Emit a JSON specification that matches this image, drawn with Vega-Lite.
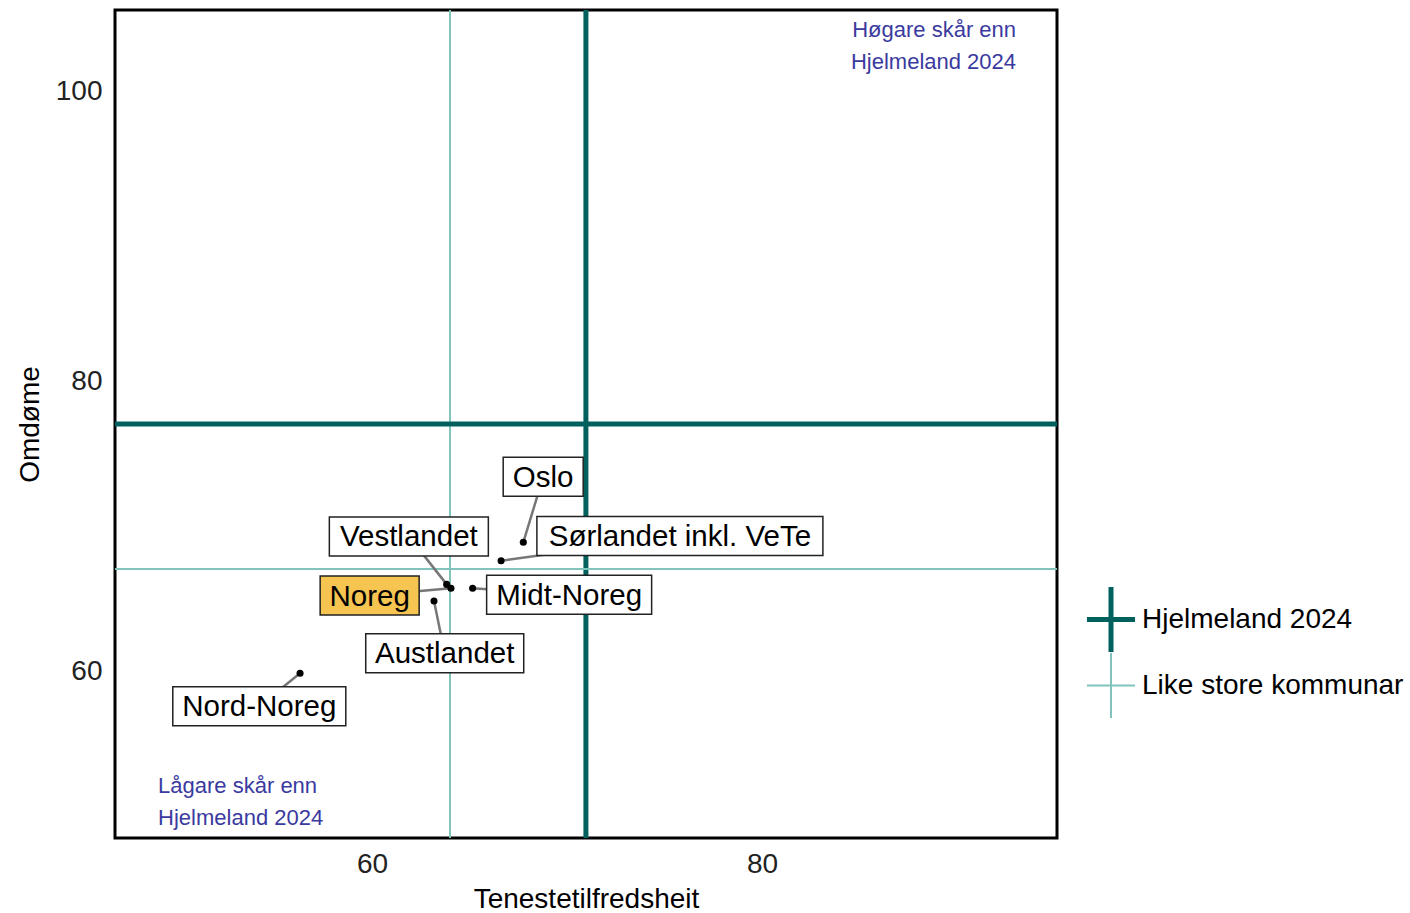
{
  "$schema": "https://vega.github.io/schema/vega-lite/v6.json",
  "width": 942,
  "height": 828,
  "autosize": {"type": "none"},
  "padding": {"left": 115, "top": 10, "right": 353, "bottom": 75},
  "background": "white",
  "config": {
    "font": "Liberation Sans",
    "view": {"stroke": "black", "strokeWidth": 3},
    "axis": {"grid": false, "ticks": false, "domain": false, "labelFontSize": 28, "labelColor": "#222", "titleFontSize": 28, "titleFontWeight": "normal", "titleColor": "black", "labelFont": "Liberation Sans", "titleFont": "Liberation Sans"}
  },
  "datasets": {
    "regions": [
      {"name": "Oslo", "x": 67.76, "y": 68.91, "lx": 68.78, "ly": 73.43},
      {"name": "Sørlandet inkl. VeTe", "x": 66.62, "y": 67.64, "lx": 75.79, "ly": 69.34},
      {"name": "Vestlandet", "x": 63.83, "y": 66.01, "lx": 61.89, "ly": 69.32},
      {"name": "Noreg", "x": 64.05, "y": 65.74, "lx": 59.88, "ly": 65.24},
      {"name": "Midt-Noreg", "x": 65.16, "y": 65.74, "lx": 70.11, "ly": 65.29},
      {"name": "Austlandet", "x": 63.18, "y": 64.86, "lx": 63.73, "ly": 61.26},
      {"name": "Nord-Noreg", "x": 56.31, "y": 59.88, "lx": 54.22, "ly": 57.6}
    ],
    "refs": [
      {"type": "Like store kommunar", "x": 64.0, "y": 67.07},
      {"type": "Hjelmeland 2024", "x": 70.97, "y": 77.07}
    ]
  },
  "layer": [
    {
      "data": {"name": "refs"},
      "mark": {"type": "rule"},
      "encoding": {
        "x": {"field": "x", "type": "quantitative", "scale": {"domain": [46.82, 95.13], "nice": false, "zero": false}, "axis": {"values": [60, 80], "title": "Tenestetilfredsheit", "labelPadding": 12, "titlePadding": 7}},
        "color": {"field": "type", "type": "nominal", "scale": {"domain": ["Hjelmeland 2024", "Like store kommunar"], "range": ["#00605E", "#80C4BC"]},
          "legend": {"orient": "none", "legendX": 982, "legendY": 595.5, "title": null, "symbolType": "M-0.74,0H0.74M0,-1V1", "symbolSize": 4225, "symbolFillColor": "transparent", "labelFontSize": 28, "labelColor": "black", "labelFont": "Liberation Sans", "labelOffset": 17, "labelLimit": 500, "rowPadding": -14, "padding": 0,
            "encode": {"symbols": {"update": {"strokeWidth": {"signal": "datum.value === 'Hjelmeland 2024' ? 5 : 2"}}}}}},
        "strokeWidth": {"condition": {"test": "datum.type === 'Hjelmeland 2024'", "value": 5}, "value": 2}
      }
    },
    {
      "data": {"name": "refs"},
      "mark": {"type": "rule"},
      "encoding": {
        "y": {"field": "y", "type": "quantitative", "scale": {"domain": [48.52, 105.62], "nice": false, "zero": false}, "axis": {"values": [60, 80, 100], "title": "Omdøme", "labelPadding": 13, "titlePadding": 11}},
        "color": {"field": "type", "type": "nominal"},
        "strokeWidth": {"condition": {"test": "datum.type === 'Hjelmeland 2024'", "value": 5}, "value": 2}
      }
    },
    {
      "data": {"name": "regions"},
      "mark": {"type": "rule", "color": "#777777", "strokeWidth": 2.5},
      "encoding": {
        "x": {"field": "x", "type": "quantitative"},
        "y": {"field": "y", "type": "quantitative"},
        "x2": {"field": "lx"},
        "y2": {"field": "ly"}
      }
    },
    {
      "data": {"name": "regions"},
      "mark": {"type": "point", "filled": true, "size": 4, "stroke": "#222", "strokeWidth": 1.5, "opacity": 1},
      "encoding": {
        "x": {"field": "lx", "type": "quantitative"},
        "y": {"field": "ly", "type": "quantitative"},
        "shape": {"field": "name", "type": "nominal", "legend": null,
          "scale": {"domain": ["Oslo", "Sørlandet inkl. VeTe", "Vestlandet", "Noreg", "Midt-Noreg", "Austlandet", "Nord-Noreg"],
            "range": ["M-40,-19.5H40V19.5H-40Z", "M-143,-19.5H143V19.5H-143Z", "M-79.5,-19.5H79.5V19.5H-79.5Z", "M-49.5,-19.5H49.5V19.5H-49.5Z", "M-82.5,-19.5H82.5V19.5H-82.5Z", "M-79,-19.5H79V19.5H-79Z", "M-86.5,-19.5H86.5V19.5H-86.5Z"]}},
        "fill": {"condition": {"test": "datum.name === 'Noreg'", "value": "#F5C451"}, "value": "white"}
      }
    },
    {
      "data": {"name": "regions"},
      "mark": {"type": "text", "fontSize": 29.5, "align": "center", "baseline": "middle", "color": "black", "dy": 1},
      "encoding": {
        "x": {"field": "lx", "type": "quantitative"},
        "y": {"field": "ly", "type": "quantitative"},
        "text": {"field": "name", "type": "nominal"}
      }
    },
    {
      "data": {"name": "regions"},
      "mark": {"type": "circle", "size": 50, "color": "black", "opacity": 1},
      "encoding": {
        "x": {"field": "x", "type": "quantitative"},
        "y": {"field": "y", "type": "quantitative"}
      }
    },
    {
      "data": {"values": [{"label": "Høgare skår enn\nHjelmeland 2024", "x": 93.03, "y": 104.24}]},
      "mark": {"type": "text", "fontSize": 22, "align": "right", "baseline": "middle", "lineBreak": "\n", "lineHeight": 32, "color": "#3A3AA0"},
      "encoding": {
        "x": {"field": "x", "type": "quantitative"},
        "y": {"field": "y", "type": "quantitative"},
        "text": {"field": "label", "type": "nominal"}
      }
    },
    {
      "data": {"values": [{"label": "Lågare skår enn\nHjelmeland 2024", "x": 49.03, "y": 52.1}]},
      "mark": {"type": "text", "fontSize": 22, "align": "left", "baseline": "middle", "lineBreak": "\n", "lineHeight": 32, "color": "#3A3AA0"},
      "encoding": {
        "x": {"field": "x", "type": "quantitative"},
        "y": {"field": "y", "type": "quantitative"},
        "text": {"field": "label", "type": "nominal"}
      }
    }
  ]
}
